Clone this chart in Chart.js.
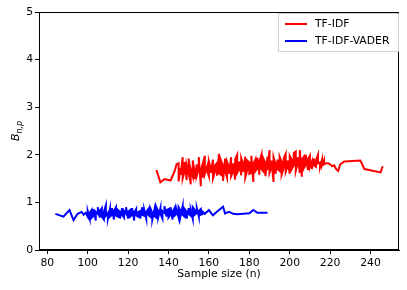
<!DOCTYPE html>
<html>
<head>
<meta charset="utf-8">
<script src="https://cdn.jsdelivr.net/npm/chart.js@4.4.1/dist/chart.umd.min.js"></script>
<style>
html,body{margin:0;padding:0;background:#fff;}
#wrap{width:407px;height:290px;position:relative;}
</style>
</head>
<body>
<div id="wrap"><canvas id="c" width="407" height="290"></canvas></div>
<script>
// ---- data ----
const tfidfN = [134,136,138,141,143,144,
145,145,146,146,147,147,148,148,149,149,150,150,151,151,152,152,153,153,154,154,155,155,156,156,157,157,158,158,159,159,
160,160,161,161,162,162,163,163,164,164,165,165,166,166,167,167,168,168,169,169,170,170,171,171,172,172,173,173,174,174,
175,175,176,176,177,177,178,178,179,179,180,180,181,181,182,182,183,183,184,184,185,185,186,186,187,187,188,188,189,189,
190,190,191,191,192,192,193,193,194,194,195,195,196,196,197,197,198,198,199,199,200,200,201,201,202,202,203,203,204,204,
205,205,206,206,207,207,208,208,209,209,210,210,211,211,212,212,213,213,214,214,215,215,216,216,217,217,218,
219,220,221,222,223,224,225,227,235,237,245,246];
const tfidfB = [1.68,1.42,1.49,1.46,1.65,1.80,
1.82,1.44,1.72,1.58,1.95,1.50,1.66,1.85,1.47,1.78,1.60,1.92,1.38,1.70,1.55,1.88,1.62,1.49,1.80,1.56,1.71,1.95,1.34,1.66,1.82,1.52,1.98,1.60,1.74,1.68,
1.55,1.86,1.70,1.62,1.90,1.50,1.64,1.78,1.83,1.56,2.02,1.61,1.58,1.88,1.76,1.45,1.92,1.66,1.52,1.85,1.73,1.60,1.95,1.55,1.66,1.82,1.48,1.90,2.00,1.62,
1.70,1.86,1.57,1.93,1.80,1.64,1.96,1.52,1.68,1.88,1.84,1.60,1.62,1.98,1.43,1.80,1.90,1.66,1.72,1.94,1.58,1.85,2.00,1.70,1.65,1.92,1.82,1.55,1.96,1.68,
2.10,1.62,1.74,1.88,1.43,1.95,1.80,1.60,1.90,1.70,1.66,1.96,1.85,1.58,1.72,1.92,2.02,1.64,1.76,1.88,1.60,1.98,1.90,1.70,1.78,2.04,2.07,1.66,1.84,1.95,
1.62,2.10,1.54,1.90,1.96,1.72,1.80,2.00,1.68,1.90,1.98,1.74,1.86,1.70,1.92,1.78,1.75,1.88,2.00,1.82,1.84,1.74,1.90,1.78,1.89,1.80,1.82,
1.82,1.80,1.76,1.78,1.70,1.66,1.80,1.86,1.88,1.70,1.63,1.76];

const vaderN = [84,88,91,93,95,97,98,99,
100,100,101,101,102,102,103,103,104,104,105,105,106,106,107,107,108,108,109,109,110,110,111,111,112,112,113,113,114,114,
115,115,116,116,117,117,118,118,119,119,120,120,121,121,122,122,123,123,124,124,125,125,126,126,127,127,128,128,129,129,
130,130,131,131,132,132,133,133,134,134,135,135,136,136,137,137,138,138,139,139,140,140,141,141,142,142,143,143,144,144,
145,145,146,146,147,147,148,148,149,149,150,150,151,151,152,152,153,153,154,154,155,155,156,156,157,157,
158,160,162,165,167,168,170,172,174,177,180,182,184,189];
const vaderB = [0.76,0.70,0.84,0.63,0.76,0.80,0.74,0.78,
0.70,0.82,0.66,0.78,0.84,0.68,0.72,0.86,0.62,0.80,0.76,0.90,0.68,0.82,0.88,0.70,0.64,0.80,0.94,0.72,0.78,0.66,0.86,0.70,0.74,0.88,0.64,0.82,0.90,0.72,
0.70,0.84,0.80,0.66,0.88,0.74,0.68,0.82,0.76,0.90,0.66,0.80,0.84,0.70,0.74,0.88,0.62,0.78,0.86,0.72,0.70,0.80,0.82,0.66,0.90,0.74,0.72,0.84,0.66,0.80,
0.86,0.74,0.70,0.88,0.78,0.64,0.84,0.72,0.68,0.90,0.80,0.70,0.88,0.76,0.66,0.82,0.78,0.92,0.70,0.84,0.86,0.68,0.74,0.90,0.64,0.80,0.88,0.72,0.76,0.84,
0.68,0.90,0.82,0.72,0.92,0.74,0.70,0.86,0.80,0.66,0.88,0.76,0.72,0.84,0.66,0.90,0.84,0.74,0.78,0.88,0.70,0.82,0.86,0.74,0.76,0.80,
0.76,0.84,0.73,0.84,0.91,0.77,0.80,0.76,0.75,0.76,0.77,0.84,0.78,0.78];

const xTicks = [80,100,120,140,160,180,200,220,240];
const yTicks = [0,1,2,3,4,5];
const seriesLabels = ['TF-IDF','TF-IDF-VADER'];
const seriesColors = ['#ff0000','#0000ff'];

const toPts = (xs, ys) => xs.map((x,i)=>({x:x, y:ys[i]}));

const FONT = 'DejaVu Sans';
const FS = 10.8;

const framePlugin = {
  id:'frame',
  afterDraw(chart){
    const ctx = chart.ctx, a = chart.chartArea;
    ctx.save();
    ctx.strokeStyle = '#000';
    ctx.lineWidth = 1;
    ctx.strokeRect(Math.round(a.left)+0.5, Math.round(a.top)+0.5, Math.round(a.right-a.left)-1, Math.round(a.bottom-a.top)-1);
    // legend
    const lx = 278.5, ly = 13.5, lw = 120, lh = 38;
    ctx.fillStyle = 'rgba(255,255,255,0.8)';
    ctx.strokeStyle = '#d0d0d0';
    ctx.beginPath();
    ctx.rect(lx, ly, lw, lh);
    ctx.fill(); ctx.stroke();
    ctx.font = FS + 'px ' + FONT;
    ctx.textBaseline = 'middle';
    ctx.textAlign = 'left';
    chart.data.datasets.forEach((ds, i) => {
      const yy = 24 + i*17;
      ctx.strokeStyle = ds.borderColor;
      ctx.lineWidth = 2;
      ctx.beginPath(); ctx.moveTo(285, yy); ctx.lineTo(307, yy); ctx.stroke();
      ctx.fillStyle = '#000';
      ctx.fillText(ds.label, 315, yy);
    });
    // y-axis label B_{n,p}
    ctx.save();
    ctx.translate(19, 131);
    ctx.rotate(-Math.PI/2);
    ctx.fillStyle = '#000';
    ctx.textBaseline = 'alphabetic';
    ctx.textAlign = 'left';
    ctx.font = 'italic 11px ' + FONT;
    const bw = ctx.measureText('B').width;
    const sub = 'n,p';
    ctx.font = 'italic 8px ' + FONT;
    const sw = ctx.measureText(sub).width;
    const total = bw + sw;
    ctx.font = 'italic 11px ' + FONT;
    ctx.fillText('B', -total/2, 0);
    ctx.font = 'italic 8px ' + FONT;
    ctx.fillText(sub, -total/2 + bw, 2.5);
    ctx.restore();
    ctx.restore();
  }
};

new Chart(document.getElementById('c'), {
  type:'line',
  data:{
    datasets:[
      {label:seriesLabels[0], data:toPts(tfidfN, tfidfB), borderColor:seriesColors[0], backgroundColor:seriesColors[0], borderWidth:2, pointRadius:0, tension:0, fill:false},
      {label:seriesLabels[1], data:toPts(vaderN, vaderB), borderColor:seriesColors[1], backgroundColor:seriesColors[1], borderWidth:2, pointRadius:0, tension:0, fill:false}
    ]
  },
  options:{
    responsive:false,
    animation:false,
    layout:{padding:{top:12,right:8,left:0,bottom:9}},
    plugins:{legend:{display:false}, tooltip:{enabled:false}},
    scales:{
      x:{
        type:'linear', min:75.9, max:254.1,
        afterBuildTicks(s){ s.ticks = xTicks.map(v=>({value:v})); },
        afterFit(s){ s.height = 31; },
        grid:{display:true, drawOnChartArea:false, drawTicks:true, tickLength:4, color:'#000'},
        border:{display:true, color:'#000'},
        ticks:{color:'#000', font:{family:FONT, size:FS}, padding:3, maxRotation:0},
        title:{display:true, text:'Sample size (n)', color:'#000', font:{family:FONT, size:FS}, padding:{top:1,bottom:0}}
      },
      y:{
        type:'linear', min:0, max:5,
        afterBuildTicks(s){ s.ticks = yTicks.map(v=>({value:v})); },
        afterFit(s){ s.width = 39; },
        grid:{display:true, drawOnChartArea:false, drawTicks:true, tickLength:4, color:'#000'},
        border:{display:true, color:'#000'},
        ticks:{color:'#000', font:{family:FONT, size:FS}, padding:2}
      }
    }
  },
  plugins:[framePlugin]
});
</script>
</body>
</html>
